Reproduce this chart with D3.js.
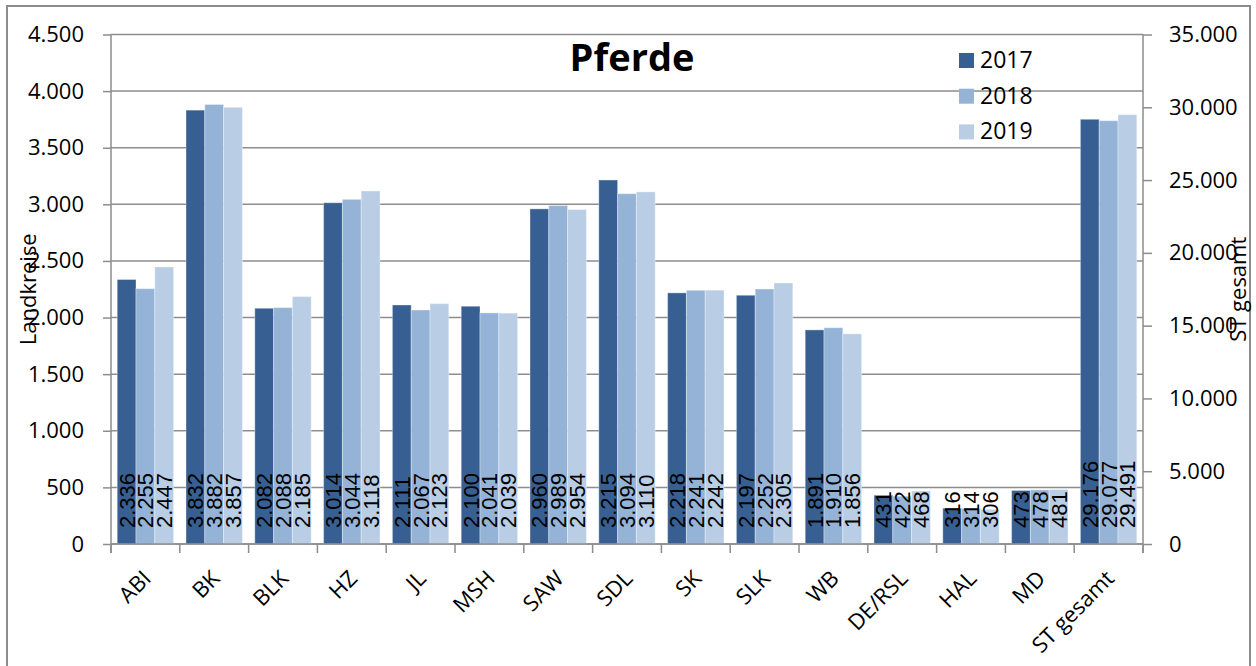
<!DOCTYPE html>
<html>
<head>
<meta charset="utf-8">
<script src="https://cdn.jsdelivr.net/npm/d3@7"></script>
<style>
  body { margin: 0; background: #fff; }
  svg { display: block; font-family: "Open Sans", sans-serif; }
</style>
</head>
<body>
<svg width="1256" height="666"></svg>
<script>
// data
var categories = ["ABI", "BK", "BLK", "HZ", "JL", "MSH", "SAW", "SDL", "SK", "SLK", "WB", "DE/RSL", "HAL", "MD", "ST gesamt"];
var years = ["2017", "2018", "2019"];
var v2017 = [2336, 3832, 2082, 3014, 2111, 2100, 2960, 3215, 2218, 2197, 1891, 431, 316, 473, 29176];
var v2018 = [2255, 3882, 2088, 3044, 2067, 2041, 2989, 3094, 2241, 2252, 1910, 422, 314, 478, 29077];
var v2019 = [2447, 3857, 2185, 3118, 2123, 2039, 2954, 3110, 2242, 2305, 1856, 468, 306, 481, 29491];
var onRightAxis = ["ST gesamt"];
var leftTicks = [0, 500, 1000, 1500, 2000, 2500, 3000, 3500, 4000, 4500];
var rightTicks = [0, 5000, 10000, 15000, 20000, 25000, 30000, 35000];
var colors = ["#385f91", "#95b3d7", "#b9cde5"];

var series = [v2017, v2018, v2019];

var svg = d3.select("svg");
var plotLeft = 111, plotRight = 1143, plotTop = 34.5, plotBottom = 544;
var gridColor = "#8d8d8d";

var de = d3.formatLocale({decimal: ",", thousands: ".", grouping: [3], currency: ["", "€"]});
var fmt = de.format(",d");

var x = d3.scaleBand().domain(categories).range([plotLeft, plotRight]);
var xi = d3.scaleBand().domain(years).range([6.2, x.bandwidth() - 6.2]);
var y = d3.scaleLinear().domain([0, 4500]).range([plotBottom, plotTop]);
var yR = d3.scaleLinear().domain([0, 35000]).range([plotBottom, plotTop]);

// outer frame
svg.append("rect")
  .attr("x", 7).attr("y", 6).attr("width", 1243).attr("height", 690)
  .attr("fill", "none").attr("stroke", gridColor).attr("stroke-width", 2);

// gridlines
svg.append("g").selectAll("line")
  .data(leftTicks).enter().append("line")
  .attr("x1", plotLeft).attr("x2", plotRight)
  .attr("y1", function (d) {return y(d);}).attr("y2", function (d) {return y(d);})
  .attr("stroke", gridColor).attr("stroke-width", 1.5);

// bars
var rows = categories.map(function (c, i) {
  return {cat: c, vals: series.map(function (s, j) {return {year: years[j], v: s[i], idx: j};})};
});

var groups = svg.append("g").selectAll("g")
  .data(rows).enter().append("g")
  .attr("transform", function (d) {return "translate(" + x(d.cat) + ",0)";});

groups.each(function (row) {
  var sc = onRightAxis.indexOf(row.cat) >= 0 ? yR : y;
  var g = d3.select(this);
  g.selectAll("rect").data(row.vals).enter().append("rect")
    .attr("x", function (d) {return xi(d.year);})
    .attr("width", xi.bandwidth())
    .attr("y", function (d) {return sc(d.v);})
    .attr("height", function (d) {return plotBottom - sc(d.v);})
    .attr("fill", function (d) {return colors[d.idx];})
    .attr("stroke", "#ffffff").attr("stroke-opacity", 0.35).attr("stroke-width", 1);
  g.selectAll("text").data(row.vals).enter().append("text")
    .attr("transform", function (d) {
      return "translate(" + (xi(d.year) + xi.bandwidth() / 2) + "," + (plotBottom - 16) + ") rotate(-90)";
    })
    .attr("dy", "0.36em")
    .style("font-family", "'Liberation Sans', Arial, sans-serif")
    .style("font-size", "22px")
    .attr("fill", "#000")
    .text(function (d) {return fmt(d.v);});
});

// left and right axes
var axL = svg.append("g").attr("transform", "translate(" + plotLeft + ",0)")
  .call(d3.axisLeft(y).tickValues(leftTicks).tickSize(8).tickPadding(19).tickFormat(fmt));
var axR = svg.append("g").attr("transform", "translate(" + plotRight + ",0)")
  .call(d3.axisRight(yR).tickValues(rightTicks).tickSize(9).tickPadding(17).tickFormat(fmt));

[axL, axR].forEach(function (a) {
  a.select(".domain").attr("stroke", gridColor).attr("stroke-width", 1.5)
    .attr("d", "M0," + plotTop + "V" + (plotBottom + 9));
  a.selectAll(".tick line").attr("stroke", gridColor).attr("stroke-width", 1.5);
  a.selectAll(".tick text").style("font-family", "'Open Sans', sans-serif").style("font-size", "22px").attr("fill", "#000");
});

// bottom axis line and category boundary ticks
svg.append("line")
  .attr("x1", plotLeft).attr("x2", plotRight).attr("y1", plotBottom).attr("y2", plotBottom)
  .attr("stroke", gridColor).attr("stroke-width", 1.5);
svg.append("g").selectAll("line")
  .data(categories.map(function (c) {return x(c);}).concat([plotRight]))
  .enter().append("line")
  .attr("x1", function (d) {return d;}).attr("x2", function (d) {return d;})
  .attr("y1", plotBottom).attr("y2", plotBottom + 9)
  .attr("stroke", gridColor).attr("stroke-width", 1.5);

// category labels
svg.append("g").selectAll("text")
  .data(categories).enter().append("text")
  .attr("transform", function (d) {
    return "translate(" + (x(d) + x.bandwidth() / 2 - 4) + "," + (plotBottom + 25) + ") rotate(-45)";
  })
  .attr("text-anchor", "end")
  .attr("dy", "0.7em")
  .style("font-size", "22px")
  .text(function (d) {return d;});

// axis titles
svg.append("text")
  .attr("transform", "translate(28," + ((plotTop + plotBottom) / 2) + ") rotate(-90)")
  .attr("text-anchor", "middle").attr("dy", "0.35em")
  .style("font-size", "22px")
  .text("Landkreise");
svg.append("text")
  .attr("transform", "translate(1238," + ((plotTop + plotBottom) / 2) + ") rotate(-90)")
  .attr("text-anchor", "middle").attr("dy", "0.35em")
  .style("font-size", "22px")
  .text("ST gesamt");

// title
svg.append("text")
  .attr("x", 632).attr("y", 71)
  .attr("text-anchor", "middle")
  .style("font-size", "38px").style("font-weight", "bold")
  .text("Pferde");

// legend
var legend = svg.append("g").attr("transform", "translate(959,53)");
var li = legend.selectAll("g").data(years).enter().append("g")
  .attr("transform", function (d, i) {return "translate(0," + (i * 35.7) + ")";});
li.append("rect").attr("width", 15).attr("height", 15)
  .attr("fill", function (d, i) {return colors[i];});
li.append("text").attr("x", 21).attr("y", 15)
  .style("font-size", "23px")
  .text(function (d) {return d;});
</script>
</body>
</html>
